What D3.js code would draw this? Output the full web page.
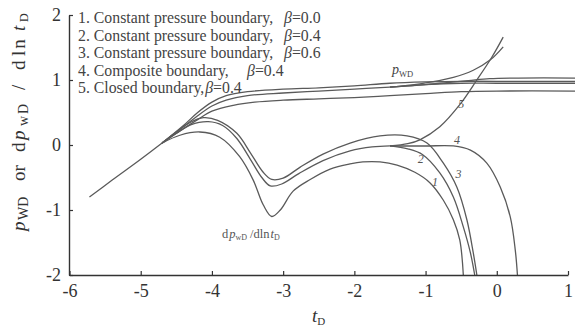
<!DOCTYPE html>
<html>
<head>
<meta charset="utf-8">
<script src="https://cdn.jsdelivr.net/npm/d3@7"></script>
<style>
  body { margin: 0; background: #fff; }
  svg { display: block; font-family: "Liberation Serif", "DejaVu Serif", serif; }
</style>
</head>
<body>
<div id="chart"></div>
<script>
// log t_D, value pairs
var earlyCommon = [[-5.72, -0.80], [-5.4, -0.54], [-5.0, -0.22], [-4.7, 0.03]];

// pressure curves p_WD
var pres1 = [[-4.7, 0.03], [-4.4, 0.25], [-4.2, 0.39], [-4.0, 0.52], [-3.7, 0.61], [-3.4, 0.66], [-3.0, 0.69], [-2.5, 0.71], [-2.0, 0.73], [-1.5, 0.76], [-1.0, 0.79], [-0.5, 0.82], [0, 0.83], [1.1, 0.83]];
var pres2 = [[-4.7, 0.03], [-4.4, 0.28], [-4.2, 0.45], [-4.0, 0.60], [-3.8, 0.69], [-3.5, 0.76], [-3.0, 0.80], [-2.5, 0.83], [-2.0, 0.86], [-1.5, 0.89], [-1.0, 0.93], [-0.5, 0.95], [0, 0.95], [1.1, 0.95]];
var pres3 = [[-4.7, 0.03], [-4.4, 0.30], [-4.2, 0.50], [-4.0, 0.66], [-3.8, 0.76], [-3.5, 0.82], [-3.0, 0.86], [-2.5, 0.88], [-2.0, 0.91], [-1.5, 0.95], [-1.0, 0.97], [-0.5, 0.98], [0, 0.98], [1.1, 0.98]];
var pres4 = [[-1.5, 0.89], [-1.0, 0.93], [-0.7, 0.96], [-0.4, 0.99], [-0.1, 1.02], [0.3, 1.03], [1.1, 1.03]];
var pres5 = [[-1.5, 0.89], [-1.08, 0.94], [-0.61, 1.04], [-0.33, 1.15], [-0.09, 1.31], [0.09, 1.51]];

// derivative curves dp_wD/dln t_D
var deriv1 = [[-4.7, 0.03], [-4.45, 0.15], [-4.17, 0.20], [-3.89, 0.12], [-3.61, -0.18], [-3.42, -0.54], [-3.28, -0.92], [-3.16, -1.10], [-3.04, -1.00], [-2.86, -0.71], [-2.62, -0.53], [-2.34, -0.37], [-2.06, -0.29], [-1.88, -0.26], [-1.64, -0.26], [-1.40, -0.31], [-1.15, -0.42], [-0.94, -0.58], [-0.75, -0.85], [-0.61, -1.15], [-0.52, -1.46], [-0.47, -2.0]];
var deriv3 = [[-4.7, 0.03], [-4.5, 0.20], [-4.3, 0.35], [-4.12, 0.42], [-3.92, 0.38], [-3.65, 0.18], [-3.46, -0.12], [-3.28, -0.42], [-3.16, -0.53], [-3.0, -0.51], [-2.76, -0.34], [-2.44, -0.14], [-2.06, 0.03], [-1.64, 0.14], [-1.26, 0.14], [-0.98, 0.03], [-0.75, -0.28], [-0.56, -0.65], [-0.42, -1.15], [-0.33, -1.66], [-0.28, -2.0]];
var deriv2Early = [[-4.7, 0.03], [-4.5, 0.18], [-4.3, 0.31], [-4.05, 0.36], [-3.85, 0.30], [-3.65, 0.10], [-3.46, -0.22], [-3.30, -0.50], [-3.18, -0.63], [-3.02, -0.60], [-2.78, -0.44], [-2.44, -0.24], [-2.06, -0.09], [-1.75, -0.03], [-1.5, -0.015]];
var deriv2 = [[-1.5, -0.015], [-1.25, -0.06], [-1.04, -0.15], [-0.80, -0.43], [-0.61, -0.80], [-0.47, -1.26], [-0.37, -1.66], [-0.31, -2.0]];
var deriv4 = [[-1.5, -0.015], [-1.0, -0.015], [-0.61, -0.015], [-0.37, -0.08], [-0.14, -0.28], [0.05, -0.65], [0.19, -1.11], [0.26, -1.62], [0.29, -2.0]];
var deriv5 = [[-1.5, -0.015], [-1.25, 0.02], [-1.08, 0.08], [-0.80, 0.28], [-0.52, 0.62], [-0.28, 1.0], [-0.07, 1.35], [0.09, 1.66]];

var legendLines = [
  ["1. Constant pressure boundary,", "\u03b2", "=0.0"],
  ["2. Constant pressure boundary,", "\u03b2", "=0.4"],
  ["3. Constant pressure boundary,", "\u03b2", "=0.6"],
  ["4. Composite boundary,", "\u03b2", "=0.4"],
  ["5. Closed boundary,", "\u03b2", "=0.4"]
];
var curveTags = [["1", -0.91, -0.63], ["2", -1.11, -0.28], ["3", -0.58, -0.5], ["4", -0.6, 0.02], ["5", -0.54, 0.57]];
var xTicks = [-6, -5, -4, -3, -2, -1, 0, 1];
var yTicks = [-2, -1, 0, 1, 2];

var W = 575, H = 330;
var x = d3.scaleLinear().domain([-6, 1]).range([69.5, 568]);
var y = d3.scaleLinear().domain([-2, 2]).range([275, 15]);

var svg = d3.select("#chart").append("svg")
  .attr("width", W)
  .attr("height", H);

var line = d3.line()
  .x(function(d) { return x(d[0]); })
  .y(function(d) { return y(d[1]); })
  .curve(d3.curveCatmullRom.alpha(0.5));

var allCurves = [earlyCommon, pres1, pres2, pres3, pres4, pres5, deriv1, deriv3, deriv2Early, deriv2, deriv4, deriv5];
svg.append("g").selectAll("path")
    .data(allCurves)
  .enter().append("path")
    .attr("fill", "none")
    .attr("stroke", "#5a5a5a")
    .attr("stroke-width", 1.3)
    .attr("d", line);

// axes, ticks point inwards
var xAxis = svg.append("g")
  .attr("transform", "translate(0,275)")
  .call(d3.axisBottom(x).tickValues(xTicks).tickSizeInner(-4).tickSizeOuter(0).tickPadding(9)
    .tickFormat(d3.format("d")));
var yAxis = svg.append("g")
  .attr("transform", "translate(69,0)")
  .call(d3.axisLeft(y).tickValues(yTicks).tickSizeInner(-4).tickSizeOuter(0).tickPadding(8)
    .tickFormat(d3.format("d")));

[xAxis, yAxis].forEach(function(a) {
  a.select(".domain").attr("stroke", "#333").attr("stroke-width", 1.4);
  a.selectAll(".tick line").attr("stroke", "#333").attr("stroke-width", 1.2);
  a.selectAll(".tick text")
    .attr("fill", "#333")
    .style("font-family", "Liberation Serif")
    .style("font-size", "18px")
    .text(function(d) { return d < 0 ? "-" + Math.abs(d) : d; });
});

// legend block
var legend = svg.append("g").attr("fill", "#444").style("font-size", "15.8px");
legendLines.forEach(function(l, i) {
  var t = legend.append("text").attr("x", 78).attr("y", 23 + i * 17.5);
  t.append("tspan").text(l[0]);
  var b = t.append("tspan").style("font-style", "italic").text(l[1]);
  if (i < 3) b.attr("x", 284);
  else if (i === 3) b.attr("x", 247);
  else b.attr("dx", 1);
  t.append("tspan").text(l[2]);
});

// curve numbers
svg.append("g").selectAll("text")
    .data(curveTags)
  .enter().append("text")
    .attr("x", function(d) { return x(d[1]); })
    .attr("y", function(d) { return y(d[2]); })
    .attr("fill", "#555")
    .style("font-size", "12px")
    .style("font-style", "italic")
    .text(function(d) { return d[0]; });

// p_WD label
var pl = svg.append("text").attr("x", 392).attr("y", 74).attr("fill", "#444").style("font-size", "14px");
pl.append("tspan").style("font-style", "italic").text("p");
pl.append("tspan").attr("dy", 3).style("font-size", "8.5px").text("WD");

// derivative label
var dl = svg.append("text").attr("x", 222).attr("y", 238).attr("fill", "#555").style("font-size", "12.5px");
dl.append("tspan").text("d");
dl.append("tspan").attr("dx", 1).style("font-style", "italic").text("p");
dl.append("tspan").attr("dy", 2).style("font-size", "8px").text("wD");
dl.append("tspan").attr("dy", -2).attr("dx", 3).text("/dln");
dl.append("tspan").attr("dx", 1).style("font-style", "italic").text("t");
dl.append("tspan").attr("dy", 2).style("font-size", "8px").text("D");

// axis titles
var xt = svg.append("text").attr("x", 312).attr("y", 322).attr("fill", "#333").style("font-size", "19px");
xt.append("tspan").style("font-style", "italic").text("t");
xt.append("tspan").attr("dy", 3).style("font-size", "11px").text("D");

// y title: rotated, tspan x = -(screen y where the piece starts)
var yt = svg.append("text")
  .attr("transform", "translate(25,0) rotate(-90)")
  .attr("fill", "#333")
  .style("font-size", "19px");
yt.append("tspan").attr("x", -231).attr("y", 0).style("font-style", "italic").text("p");
yt.append("tspan").attr("x", -220).attr("y", 3).style("font-size", "14px").text("WD");
yt.append("tspan").attr("x", -181).attr("y", 0).text("or");
yt.append("tspan").attr("x", -152).attr("y", 0).text("d");
yt.append("tspan").attr("x", -140).attr("y", 0).style("font-style", "italic").text("p");
yt.append("tspan").attr("x", -126).attr("y", 3).style("font-size", "14px").style("letter-spacing", "2px").text("wD");
yt.append("tspan").attr("x", -90).attr("y", 0).text("/");
yt.append("tspan").attr("x", -70).attr("y", 0).text("d");
yt.append("tspan").attr("x", -56).attr("y", 0).style("letter-spacing", "2px").text("ln");
yt.append("tspan").attr("x", -31).attr("y", 0).style("font-style", "italic").text("t");
yt.append("tspan").attr("x", -22).attr("y", 3).style("font-size", "12px").text("D");
</script>
</body>
</html>
